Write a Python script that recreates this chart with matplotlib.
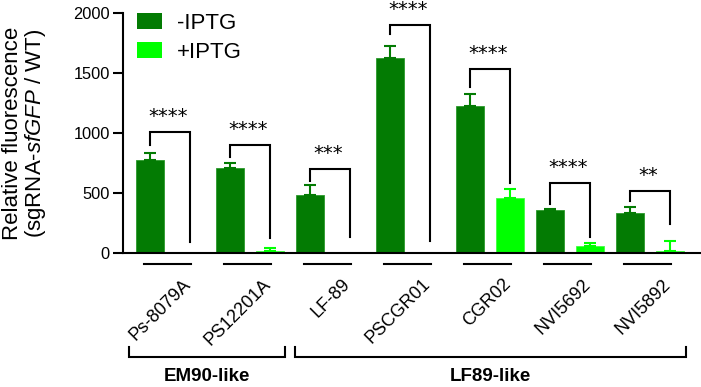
import numpy as np
import matplotlib
matplotlib.use("Agg")
import matplotlib.pyplot as plt
from matplotlib.patches import Patch

plt.rcParams['font.family'] = ['Liberation Sans', 'DejaVu Sans']
plt.rcParams['mathtext.fontset'] = 'custom'
plt.rcParams['mathtext.it'] = 'Liberation Sans:italic'
plt.rcParams['mathtext.rm'] = 'Liberation Sans'

# strains and measured values
strains = ['Ps-8079A', 'PS12201A', 'LF-89', 'PSCGR01', 'CGR02', 'NVI5692', 'NVI5892']
minus_iptg = [771, 712, 487, 1627, 1225, 362, 332]
minus_err = [66, 40, 82, 96, 100, 6, 55]
plus_iptg = [0, 20, 0, 0, 457, 57, 15]
plus_err = [0, 25, 0, 0, 78, 25, 81]

# significance brackets: left end, right end, top, label
br_left = [896, 796, 604, 1827, 1380, 412, 437]
br_right = [88, 129, 130, 96, 582, 132, 245]
br_top = [1012, 896, 696, 1901, 1533, 582, 515]
stars = ['****', '****', '***', '****', '****', '****', '**']

# strain groups (first index, last index, name)
groups = [(0, 1, 'EM90-like'), (2, 6, 'LF89-like')]

dark = '#037b03'
light = '#00ff00'

fig = plt.figure(figsize=(7.01, 3.87), dpi=100)
ax = fig.add_axes([123/701, 1-253/387, 1-123/701, 240/387])

x = np.arange(len(strains))
off = 0.25
w = 0.34

ax.bar(x - off, minus_iptg, w, color=dark, edgecolor='#2a9a2a', linewidth=0.6, zorder=2)
ax.bar(x + off, plus_iptg, w, color=light, edgecolor='#40ff40', linewidth=0.6, zorder=2)

# upper error bars only
for xs, vals, errs, c in [(x - off, minus_iptg, minus_err, dark), (x + off, plus_iptg, plus_err, light)]:
    for xi, v, e in zip(xs, vals, errs):
        if e > 0:
            ax.errorbar(xi, v, yerr=[[0], [e]], fmt='none', ecolor=c, elinewidth=1.5,
                        capsize=4.5, capthick=1.5, zorder=3)

# brackets with stars
for i in range(len(strains)):
    xl, xr = i - off, i + off
    ax.plot([xl, xl, xr, xr], [br_left[i], br_top[i], br_top[i], br_right[i]],
            color='black', lw=1.5, solid_joinstyle='miter', zorder=4)
    ax.text(i - 0.02, br_top[i] + 50, stars[i], ha='center', va='bottom',
            fontsize=14, family='DejaVu Sans', clip_on=False)

ax.set_ylim(0, 2000)
ax.set_xlim(-0.5875, 6.6375)
ax.set_yticks([0, 500, 1000, 1500, 2000])
ax.tick_params(axis='y', length=7.5, width=1.5, labelsize=11.8, pad=2)
ax.set_xticks([])
for s in ['top', 'right']:
    ax.spines[s].set_visible(False)
ax.spines['left'].set_linewidth(1.5)
ax.spines['bottom'].set_linewidth(1.5)

ax.set_ylabel('Relative fluorescence\n(sgRNA-$\\it{sfGFP}$ / WT)', fontsize=16, labelpad=18,
              linespacing=1.0)

trans = ax.get_xaxis_transform()
# category lines and labels under the axis
for i, name in enumerate(strains):
    ax.plot([i - 0.32, i + 0.26], [-0.046, -0.046], transform=trans, color='black',
            lw=1.5, clip_on=False)
    ax.text(i + 0.15, -0.095, name, transform=trans, rotation=45, rotation_mode='anchor',
            ha='right', va='top', fontsize=13)

# group brackets
for a, b, name in groups:
    xl = a - 0.51 if a == 0 else a - 0.44
    xr = b + 0.44 if b != len(strains) - 1 else b + 0.45
    ax.plot([xl, xl, xr, xr], [-0.392, -0.433, -0.433, -0.392], transform=trans,
            color='black', lw=1.5, clip_on=False, solid_joinstyle='miter')
    ax.text((xl + xr) / 2, -0.515, name, transform=trans, ha='center', va='center',
            fontsize=13.5, fontweight='bold')

handles = [Patch(facecolor=dark, edgecolor='none', label='-IPTG'),
           Patch(facecolor=light, edgecolor='none', label='+IPTG')]
ax.legend(handles=handles, loc='upper left', bbox_to_anchor=(0.0237, 1.0), frameon=False,
          fontsize=16, handlelength=1.15, handleheight=0.7, handletextpad=0.65,
          labelspacing=0.35, borderaxespad=0, borderpad=0)

fig.savefig('out.png', dpi=100)
